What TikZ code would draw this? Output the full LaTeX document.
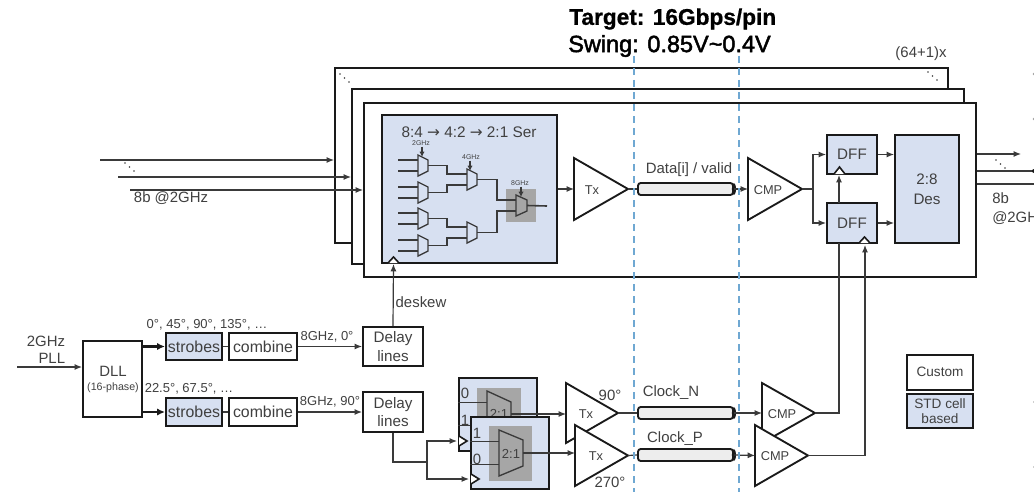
\documentclass[tikz,border=0pt]{standalone}
\usepackage{fontspec}
\setmainfont{Liberation Sans}
\newfontfamily\swingf[FakeBold=2]{Liberation Sans}
\newfontfamily\targetf[FakeBold=0.8]{Liberation Sans Bold}
\newfontfamily\arrowf{DejaVu Sans}
\usetikzlibrary{arrows.meta}
\definecolor{blk}{HTML}{1A1A1A}
\definecolor{txt}{HTML}{404040}
\definecolor{wirec}{HTML}{3A3A3A}
\definecolor{cellblue}{HTML}{D7E0F1}
\definecolor{muxgray}{HTML}{A6A6A6}
\definecolor{pipegray}{HTML}{EDEDED}
\definecolor{dashblue}{HTML}{6FA8D2}
\newcommand\fz[2]{\fontsize{#1}{#2}\selectfont}
\tikzset{
  sz/.style 2 args={minimum width=#1*0.75pt,minimum height=#2*0.75pt},
  plainbox/.style={draw=blk,line width=1.5pt,inner sep=0pt,text=txt,fill=white,align=center,font=\fz{11.4pt}{12pt}},
  bluebox/.style={plainbox,fill=cellblue},
  stack/.style={draw=blk,line width=1.5pt,fill=white,inner sep=0pt},
  wire/.style={draw=wirec,line width=.9pt},
  arrowwire/.style={wire,-{Latex[length=5.5pt,width=4.5pt]}},
  fatwire/.style={draw=blk,line width=1.9pt,-{Latex[length=6pt,width=5.5pt]}},
  muxwire/.style={draw=wirec,line width=1.2pt},
  lab/.style={text=txt,inner sep=0pt,align=center,font=\fz{11.2pt}{13pt}},
  labs/.style={text=txt,inner sep=0pt,align=center,font=\fz{9.75pt}{12pt}},
  tiny/.style={text=txt,inner sep=0pt,font=\fz{5.2pt}{6pt}},
  tribody/.style={draw=blk,line width=1.4pt,fill=white,line join=miter},
  muxsmall/.style={draw=wirec,line width=1pt,fill=cellblue},
  muxdark/.style={draw=wirec,line width=1pt,fill=muxgray},
  clocktip/.style={draw=blk,line width=1.2pt,fill=white},
  pipebody/.style={draw=blk,line width=1.4pt,fill=pipegray,rounded corners=2pt,inner sep=0pt},
  dashline/.style={draw=dashblue,line width=1.1pt,dash pattern=on 5.5pt off 3.5pt},
}
% triangle: name, left x, top y, bottom y, apex x, text, text x
\newcommand\tri[7]{%
  \draw[tribody] (#2,#3) -- (#5,{(#3+#4)/2}) -- (#2,#4) -- cycle;
  \coordinate (#1-i) at (#2,{(#3+#4)/2});
  \coordinate (#1-o) at (#5,{(#3+#4)/2});
  \node[text=txt,inner sep=0pt,font=\fz{9.6pt}{11pt}] (#1) at (#7,{(#3+#4)/2+1}) {#6};
}
% mux: name, left x, right x, top y, bottom y, inset, style
\newcommand\mymux[7]{%
  \draw[#7] (#2,#4) -- (#3,{#4+#6}) -- (#3,{#5-#6}) -- (#2,#5) -- cycle;
  \coordinate (#1-a) at (#2,{#4+0.25*(#5-#4)});
  \coordinate (#1-b) at (#2,{#5-0.25*(#5-#4)});
  \coordinate (#1-o) at (#3,{(#4+#5)/2});
}
\newcommand\threedots[2]{%
  \fill[txt] (#1,#2) circle (.8);
  \fill[txt] ({#1+4.5},{#2+4}) circle (.8);
  \fill[txt] ({#1+9},{#2+8}) circle (.8);
}
\begin{document}
\begin{tikzpicture}[x=0.75pt,y=-0.75pt]
\useasboundingbox (0,0) rectangle (1034,492);
\clip (0,0) rectangle (1034,492);
\fill[white] (0,0) rectangle (1034,492);

% title
\node[anchor=west,inner sep=0pt,text=black,font=\targetf\fz{17pt}{20pt}] (target) at (569,19) {Target: 16Gbps/pin};
\node[anchor=west,inner sep=0pt,text=black,font=\swingf\fz{17.6pt}{20pt}] (swing) at (568,46) {Swing: 0.85V\textasciitilde 0.4V};
\node[lab] (count) at (921,54) {(64+1)x};

% stacked lanes
\node[stack,sz={613}{175},anchor=north west] (lane1) at (334,67) {};
\node[stack,sz={612}{175},anchor=north west] (lane2) at (351,88) {};
\node[stack,sz={612}{174},anchor=north west] (lane3) at (363,102) {};
\threedots{340}{74}
\threedots{928}{72}

% input bus
\coordinate (in1) at (100,160);
\coordinate (in2) at (118,177);
\coordinate (in3) at (130,190);
\draw[arrowwire] (in1) -- (in1 -| lane1.west);
\draw[arrowwire] (in2) -- (in2 -| lane2.west);
\draw[arrowwire] (in3) -- (in3 -| lane3.west);
\threedots{125}{163}
\node[lab] (inlabel) at (171,198) {8b @2GHz};

% serializer
\node[bluebox,sz={175}{148}] (ser) at (469.5,189) {};
\node[text=txt,inner sep=0pt,font=\fz{11.5pt}{13pt}] (sertitle) at (469,132) {8:4 {\arrowf →} 4:2 {\arrowf →} 2:1 Ser};
\fill[muxgray] (506,189) rectangle (536,222);
\mymux{ma}{418}{428}{155}{176}{5}{muxsmall}
\mymux{mb}{418}{428}{182}{203}{5}{muxsmall}
\mymux{mc}{418}{428}{208}{229}{5}{muxsmall}
\mymux{md}{418}{428}{235}{256}{5}{muxsmall}
\mymux{me}{467}{477}{169}{190}{5}{muxsmall}
\mymux{mf}{467}{477}{222}{243}{5}{muxsmall}
\mymux{mg}{516}{527}{195}{216}{5}{muxdark}
\foreach \m in {ma,mb,mc,md}{
  \draw[muxwire] ([xshift=-15pt]\m-a) -- (\m-a);
  \draw[muxwire] ([xshift=-15pt]\m-b) -- (\m-b);
}
\draw[muxwire] (ma-o) -- ++(19,0) |- (me-a);
\draw[muxwire] (mb-o) -- ++(19,0) |- (me-b);
\draw[muxwire] (mc-o) -- ++(19,0) |- (mf-a);
\draw[muxwire] (md-o) -- ++(19,0) |- (mf-b);
\draw[muxwire] (me-o) -- ++(20,0) |- (mg-a);
\draw[muxwire] (mf-o) -- ++(20,0) |- (mg-b);
\coordinate (serout) at (547,206);
\draw[muxwire] (mg-o) -- (serout);
\node[tiny] (f2) at (421,143) {2GHz};
\node[tiny] (f4) at (471,157) {4GHz};
\node[tiny] (f8) at (520,183) {8GHz};
\coordinate (ck2) at (422,157);
\coordinate (ck4) at (470,171);
\coordinate (ck8) at (521,197);
\draw[muxwire,-{Latex[length=4pt,width=4pt]}] (f2.south) ++(1,1) -- (ck2);
\draw[muxwire,-{Latex[length=4pt,width=4pt]}] (f4.south) ++(-1,1) -- (ck4);
\draw[muxwire,-{Latex[length=4pt,width=4pt]}] (f8.south) ++(1,1) -- (ck8);
\draw[clocktip] (388,263) -- (393.5,257) -- (399,263);

% data path
\tri{txd}{574}{158}{220}{628}{Tx}{592}
\tri{cmpd}{748}{158}{220}{802}{CMP}{768}
\draw[arrowwire] (ser.east) -- (txd-i);
\node[pipebody,sz={95}{12}] (pipeD) at (685.5,189) {};
\fill[blk] (pipeD.east) ellipse (2 and 6);
\draw[wire] (txd-o) -- (pipeD.west);
\draw[arrowwire] (pipeD.east) -- (cmpd-i);
\node[lab] (datalabel) at (689,170) {Data[i] / valid};

% DFFs and deserializer
\node[bluebox,sz={50}{39}] (dff1) at (852,154.5) {DFF};
\node[bluebox,sz={50}{40}] (dff2) at (852,223) {DFF};
\node[bluebox,sz={64}{108}] (des) at (927,189) {2:8\\[3pt]Des};
\coordinate (split) at (813,189);
\draw[arrowwire] (cmpd-o) -- (split) |- (dff1.west);
\draw[arrowwire] (split) |- (dff2.west);
\draw[arrowwire] (dff1.east) -- (dff1.east -| des.west);
\draw[arrowwire] (dff2.east) -- (dff2.east -| des.west);
\draw[clocktip] (834,174) -- (839.5,167) -- (845,174);
\draw[clocktip] (859,243) -- (864.5,237) -- (870,243);
\coordinate (d2top) at (839,203);
\coordinate (d1ck) at (839,175);
\draw[arrowwire] (d2top) -- (d1ck);

% output bus
\coordinate (out1) at (1021,154);
\coordinate (out2) at (1034,171);
\coordinate (out3) at (1034,184);
\draw[arrowwire] (lane3.east |- out1) -- (out1);
\draw[wire] (lane3.east |- out2) -- (out2);
\draw[wire] (lane3.east |- out3) -- (out3);
\threedots{996}{160}
\node[lab,anchor=north west,align=left,font=\fz{11.2pt}{14.2pt}] (outlabel) at (992,192) {8b\\@2GHz};
\fill[blk] (1034,171) circle (2);
\fill[txt!50] (1034,74) circle (1.5);
\fill[txt!50] (1034,119) circle (1.5);
\fill[txt!50] (1034,402) circle (1);
\fill[txt!50] (1034,467) circle (1);

% clock generation
\node[lab,align=right,font=\fz{11.2pt}{12.8pt}] (pll) at (46,350) {2GHz\\PLL};
\node[plainbox,sz={59}{76}] (dll) at (112.5,379) {};
\node[lab] (dllname) at (113,371) {DLL};
\node[text=txt,inner sep=0pt,font=\fz{8pt}{9pt}] (dllsub) at (113,388) {(16-phase)};
\coordinate (pllin) at (17,367);
\draw[arrowwire] (pllin) -- (pllin -| dll.west);
\node[bluebox,sz={56}{27},font=\fz{11.9pt}{12pt}] (st1) at (194,346.5) {strobes};
\node[bluebox,sz={56}{28},font=\fz{11.9pt}{12pt}] (st2) at (194,412) {strobes};
\node[plainbox,sz={68}{27},font=\fz{11.9pt}{12pt}] (co1) at (263,346.5) {combine};
\node[plainbox,sz={68}{28},font=\fz{11.9pt}{12pt}] (co2) at (263,412) {combine};
\node[plainbox,sz={60}{39}] (dl1) at (393,346.5) {Delay\\[2pt]lines};
\node[plainbox,sz={60}{40}] (dl2) at (393,412) {Delay\\[2pt]lines};
\draw[fatwire] (dll.east |- st1.west) -- (st1.west);
\draw[fatwire] (dll.east |- st2.west) -- (st2.west);
\draw[wire] (st1.east) -- (co1.west);
\draw[wire] (st2.east) -- (co2.west);
\draw[arrowwire] (co1.east) -- (dl1.west);
\draw[arrowwire] (co2.east) -- (dl2.west);
\node[labs] (ph1) at (207,325) {0°, 45°, 90°, 135°, …};
\node[labs] (ph2) at (189,389) {22.5°, 67.5°, …};
\node[labs] (ghz1) at (327,337) {8GHz, 0°};
\node[labs] (ghz2) at (330,402) {8GHz, 90°};
\coordinate (serck) at (393.5,264);
\draw[arrowwire] (dl1.north) -- (serck);
\node[lab] (desk) at (421,302) {deskew};

% clock muxes
\node[bluebox,sz={78}{73}] (mxa) at (498,414.5) {};
\fill[muxgray] (477,388) rectangle (521,440);
\mymux{ta}{487}{511}{391}{437}{11}{muxdark}
\node[text=txt,inner sep=0pt,font=\fz{9.8pt}{11pt}] (ta21) at (499,414) {2:1};
\node[lab,font=\fz{11.2pt}{12pt}] (ta0) at (465,393) {0};
\node[lab,font=\fz{11.2pt}{12pt}] (ta1) at (465,420) {1};
\draw[wire] (mxa.west |- ta-a) -- (ta-a);
\draw[wire] (mxa.west |- ta-b) -- (ta-b);
\draw[clocktip] (459,436) -- (467,441) -- (459,446);
\tri{txn}{566}{383}{443}{618}{Tx}{586}
\draw[arrowwire] (ta-o) -- (ta-o -| txn-i);
\node[bluebox,sz={78}{72}] (mxb) at (510,453) {};
\fill[muxgray] (489,426) rectangle (532,481);
\mymux{tb}{499}{523}{430}{476}{10}{muxdark}
\node[text=txt,inner sep=0pt,font=\fz{9.8pt}{11pt}] (tb21) at (511,454) {2:1};
\node[lab,font=\fz{11.2pt}{12pt}] (tb1) at (477,433) {1};
\node[lab,font=\fz{11.2pt}{12pt}] (tb0) at (477,459) {0};
\draw[wire] (mxb.west |- tb-a) -- (tb-a);
\draw[wire] (mxb.west |- tb-b) -- (tb-b);
\draw[clocktip] (471,474) -- (479,479) -- (471,484);
\tri{txp}{575}{425}{486}{628}{Tx}{596}
\draw[arrowwire] (tb-o) -- (tb-o -| txp-i);
\node[labs,font=\fz{11.2pt}{13pt}] (d90) at (610,395) {90°};
\node[labs,font=\fz{11.2pt}{13pt}] (d270) at (610,482) {270°};
\coordinate (jn) at (427,462);
\coordinate (ckA) at (457,441);
\coordinate (ckB) at (469,479);
\draw[wire] (dl2.south) |- (jn);
\draw[arrowwire] (jn) |- (ckA);
\draw[arrowwire] (jn) |- (ckB);

% clock lanes
\node[pipebody,sz={95}{12}] (pipeN) at (685.5,413) {};
\node[pipebody,sz={95}{12}] (pipeP) at (685.5,455) {};
\fill[blk] (pipeN.east) ellipse (2 and 6);
\fill[blk] (pipeP.east) ellipse (2 and 6);
\draw[wire] (txn-o) -- (pipeN.west);
\draw[wire] (txp-o) -- (pipeP.west);
\node[lab] (clkN) at (671,393) {Clock\_N};
\node[lab] (clkP) at (675,439) {Clock\_P};
\tri{cmpn}{762}{383}{443}{815}{CMP}{782}
\tri{cmpp}{755}{425}{486}{808}{CMP}{775}
\draw[arrowwire] (pipeN.east) -- (cmpn-i);
\draw[arrowwire] (pipeP.east) -- (cmpp-i);
\coordinate (toDa) at (839,243);
\coordinate (toDb) at (865,245);
\draw[wire] (cmpn-o) -| (toDa);
\draw[arrowwire] (cmpp-o) -| (toDb);

% legend
\node[plainbox,sz={66}{35},font=\fz{10.2pt}{12pt}] (custom) at (940,372) {Custom};
\node[bluebox,sz={66}{34},font=\fz{10.2pt}{11.2pt}] (stdc) at (940,411) {STD cell\\based};

% dashed cuts
\coordinate (cutAt) at (634,56);
\coordinate (cutAb) at (634,492);
\coordinate (cutBt) at (739,56);
\coordinate (cutBb) at (739,492);
\draw[dashline] (cutAt) -- (cutAb);
\draw[dashline] (cutBt) -- (cutBb);
\end{tikzpicture}
\end{document}
